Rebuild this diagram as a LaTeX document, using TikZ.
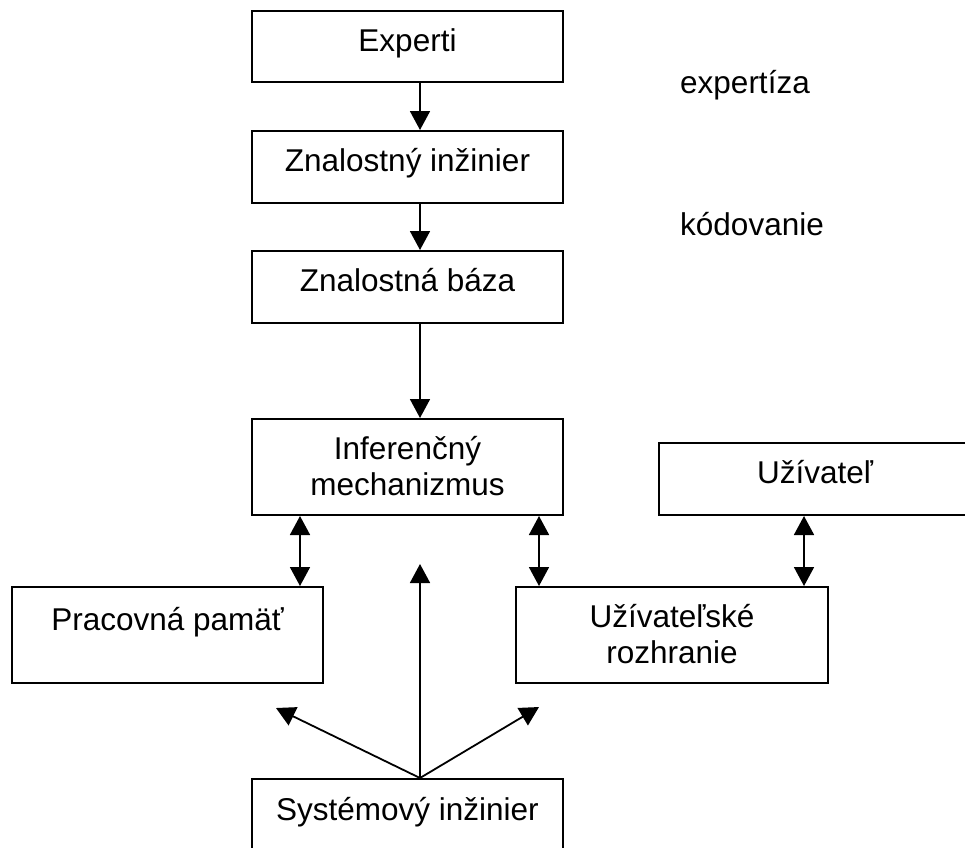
\documentclass[tikz,border=0pt]{standalone}
\usepackage{fontspec}
\setmainfont{Liberation Sans}
\usetikzlibrary{arrows.meta,calc}
\begin{document}
\begin{tikzpicture}[x=1pt,y=-1pt,
  box/.style={draw,line width=2pt,rectangle,inner sep=0pt},
  lbl/.style={anchor=base,inner sep=0pt,font=\fontsize{31.5}{36}\selectfont},
  arr/.style={line width=1.8pt,-{Triangle[length=19pt,width=20pt]}},
  darr/.style={line width=1.8pt,{Triangle[length=19pt,width=20pt]}-{Triangle[length=19pt,width=20pt]}}]
\useasboundingbox (0,0) rectangle (965,847);
% boxes
\node[box,minimum width=311pt,minimum height=71pt] (exp) at (407.5,46.5) {};
\node[box,minimum width=311pt,minimum height=72pt] (zi) at (407.5,167) {};
\node[box,minimum width=311pt,minimum height=72pt] (zb) at (407.5,287) {};
\node[box,minimum width=311pt,minimum height=96pt] (inf) at (407.5,467) {};
\node[box,minimum width=312pt,minimum height=72pt] (uz) at (815,479) {};
\node[box,minimum width=311pt,minimum height=96pt] (pp) at (167.5,635) {};
\node[box,minimum width=312pt,minimum height=96pt] (ur) at (672,635) {};
\node[box,minimum width=311pt,minimum height=96pt] (sys) at (407.5,827) {};
% texts
\node[lbl] (texp) at (407.5,51) {Experti};
\node[lbl] (tzi) at (407.5,171) {Znalostný inžinier};
\node[lbl] (tzb) at (407.5,291) {Znalostná báza};
\node[lbl] (tinf1) at (407.5,459) {Inferenčný};
\node[lbl] (tinf2) at (407.5,495) {mechanizmus};
\node[lbl] (tuz) at (815,483) {Užívateľ};
\node[lbl] (tpp) at (167.5,630) {Pracovná pamäť};
\node[lbl] (tur1) at (672,627) {Užívateľské};
\node[lbl] (tur2) at (672,663) {rozhranie};
\node[lbl] (tsys) at (407.5,820) {Systémový inžinier};
\node[lbl,anchor=base west] (lexp) at (680,93) {expertíza};
\node[lbl,anchor=base west] (lkod) at (680,235) {kódovanie};
% connectors
\draw[arr] (exp.south -| 420,0) -- (zi.north -| 420,0);
\draw[arr] (zi.south -| 420,0) -- (zb.north -| 420,0);
\draw[arr] (zb.south -| 420,0) -- (inf.north -| 420,0);
\draw[darr] (inf.south -| 300,0) -- (pp.north -| 300,0);
\draw[darr] (inf.south -| 539,0) -- (ur.north -| 539,0);
\draw[darr] (uz.south -| 804,0) -- (ur.north -| 804,0);
\coordinate (up) at (420,564);
\coordinate (upl) at (276,708);
\coordinate (upr) at (539,707);
\coordinate (sroot) at (sys.north -| 420,0);
\draw[arr] (sroot) -- (up);
\draw[arr] (sroot) -- (upl);
\draw[arr] (sroot) -- (upr);
\end{tikzpicture}
\end{document}
